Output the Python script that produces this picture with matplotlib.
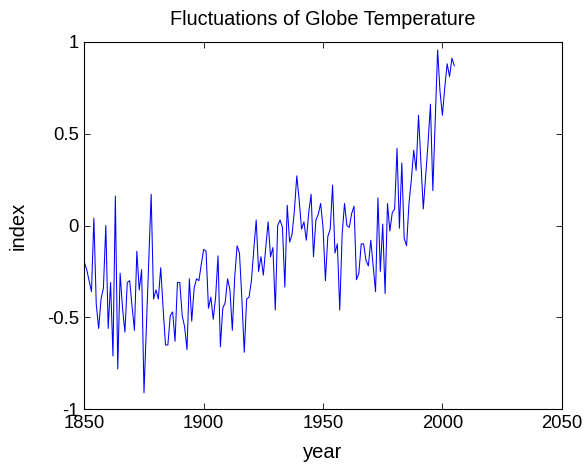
import numpy as np
import matplotlib
matplotlib.use('Agg')
import matplotlib.pyplot as plt

# yearly index values, 1850 onwards
start_year = 1850
index_values = [
    -0.20, -0.24, -0.30, -0.36, 0.04, -0.43, -0.56, -0.40, -0.34, 0.00,
    -0.56, -0.31, -0.71, 0.16, -0.78, -0.26, -0.45, -0.58, -0.31, -0.30,
    -0.44, -0.57, -0.14, -0.35, -0.24, -0.91, -0.55, -0.19, 0.17, -0.40,
    -0.35, -0.40, -0.23, -0.45, -0.65, -0.65, -0.49, -0.47, -0.63, -0.31,
    -0.31, -0.49, -0.55, -0.675, -0.29, -0.52, -0.34, -0.29, -0.30, -0.21,
    -0.13, -0.14, -0.45, -0.39, -0.51, -0.39, -0.165, -0.66, -0.45, -0.42,
    -0.29, -0.35, -0.57, -0.28, -0.11, -0.15, -0.40, -0.69, -0.40, -0.39,
    -0.30, -0.13, 0.03, -0.25, -0.17, -0.27, -0.12, 0.02, -0.17, -0.12,
    -0.46, 0.00, 0.03, -0.01, -0.335, 0.11, -0.09, -0.05, 0.08, 0.27,
    0.14, -0.02, 0.02, -0.08, 0.07, 0.17, -0.17, 0.03, 0.06, 0.12,
    -0.01, -0.30, -0.06, -0.02, 0.22, -0.15, -0.10, -0.46, -0.05, 0.12,
    0.00, -0.01, 0.066, 0.105, -0.295, -0.26, -0.10, -0.10, -0.19, -0.22,
    -0.08, -0.22, -0.36, 0.15, -0.25, 0.008, -0.37, 0.12, -0.03, 0.07,
    0.09, 0.42, -0.015, 0.34, -0.07, -0.11, 0.12, 0.25, 0.41, 0.30,
    0.60, 0.35, 0.09, 0.27, 0.45, 0.66, 0.19, 0.57, 0.955, 0.73,
    0.60, 0.75, 0.88, 0.81, 0.91, 0.87,
]
years = np.arange(start_year, start_year + len(index_values))

x_ticks = [1850, 1900, 1950, 2000, 2050]
y_ticks = [-1, -0.5, 0, 0.5, 1]
y_tick_labels = ['-1', '-0.5', '0', '0.5', '1']

plt.rcParams['font.family'] = ['Liberation Sans', 'DejaVu Sans']

fig = plt.figure(figsize=(5.86, 4.67), dpi=100)
ax = fig.add_axes([0.1439, 0.1235, 0.8147, 0.7872])
ax.plot(years, index_values, color='#0000ff', linewidth=0.75)

ax.set_xlim(1850, 2050)
ax.set_ylim(-1, 1)
ax.set_xticks(x_ticks)
ax.set_yticks(y_ticks)
ax.set_yticklabels(y_tick_labels)
ax.tick_params(direction='in', length=4, width=0.6, top=True, right=True,
               labelsize=13.3)
ax.tick_params(axis='x', pad=4)
ax.tick_params(axis='y', pad=4)
for spine in ax.spines.values():
    spine.set_linewidth(0.8)

ax.set_title('Fluctuations of Globe Temperature', fontsize=14.3, pad=12)
ax.set_xlabel('year', fontsize=14.5, labelpad=8)
ax.set_ylabel('index', fontsize=14.5, labelpad=14)

fig.savefig('out.png', dpi=100)
